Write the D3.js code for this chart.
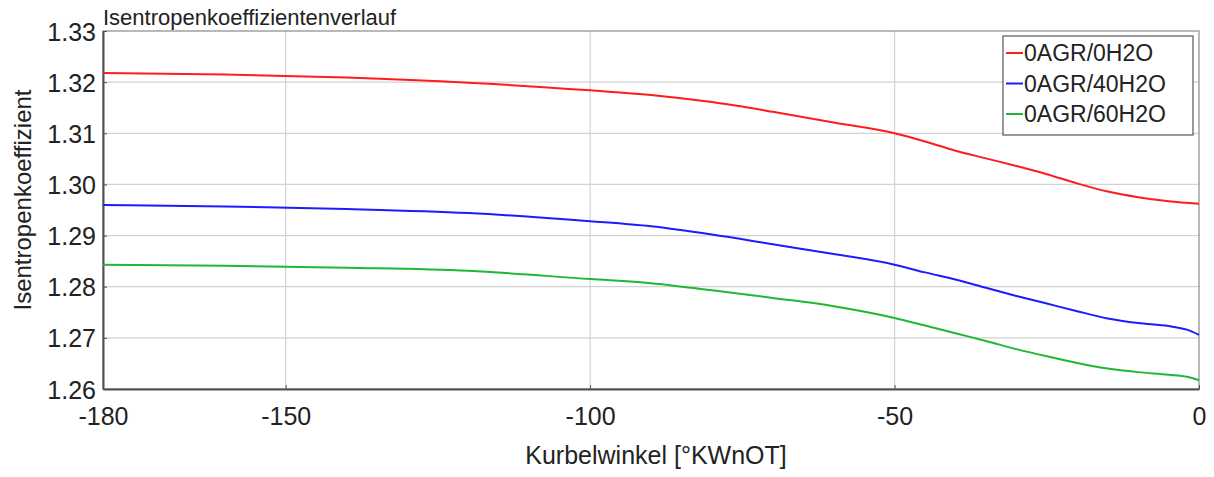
<!DOCTYPE html>
<html>
<head>
<meta charset="utf-8">
<script src="https://cdn.jsdelivr.net/npm/d3@7"></script>
<style>
  body { margin: 0; background: #fff; }
  svg { display: block; font-family: Arial, "Liberation Sans", sans-serif; }
</style>
</head>
<body>
<svg width="1214" height="477"></svg>
<script>
// crank angle and isentropic coefficient per series
var angles0 = [-180, -160, -140, -120, -100, -90, -80, -70, -60, -50, -45, -40, -35, -30, -25, -20, -15, -10, -5, 0];
var kappa0 = [1.3218, 1.3215, 1.3209, 1.3199, 1.3184, 1.3175, 1.3161, 1.3142, 1.3121, 1.3100, 1.3084, 1.3066, 1.3051, 1.3036, 1.3020, 1.3002, 1.2986, 1.2975, 1.2967, 1.2962];

var angles40 = [-180, -160, -140, -120, -100, -90, -80, -70, -60, -50, -45, -40, -35, -30, -25, -20, -15, -10, -5, -2, 0];
var kappa40 = [1.2960, 1.2957, 1.2952, 1.2944, 1.2928, 1.2918, 1.2902, 1.2883, 1.2864, 1.2843, 1.2828, 1.2814, 1.2798, 1.2782, 1.2767, 1.2752, 1.2738, 1.2729, 1.2723, 1.2716, 1.2706];

var angles60 = [-180, -160, -140, -120, -100, -90, -80, -70, -60, -50, -45, -40, -35, -30, -25, -20, -15, -10, -5, -2, 0];
var kappa60 = [1.2843, 1.2841, 1.2837, 1.2831, 1.2815, 1.2807, 1.2793, 1.2778, 1.2762, 1.2739, 1.2724, 1.2709, 1.2694, 1.2678, 1.2664, 1.2651, 1.2640, 1.2633, 1.2628, 1.2624, 1.2617];

var seriesNames = ['0AGR/0H2O', '0AGR/40H2O', '0AGR/60H2O'];
var seriesColors = ['#ff1c1c', '#1c1cff', '#1fb832'];
var xTicks = [-180, -150, -100, -50, 0];
var yTicks = [1.26, 1.27, 1.28, 1.29, 1.30, 1.31, 1.32, 1.33];

var svg = d3.select('svg');
var margin = {top: 31, right: 15, bottom: 88, left: 103};
var width = 1214 - margin.left - margin.right;
var height = 477 - margin.top - margin.bottom;

var x = d3.scaleLinear().domain([-180, 0]).range([0, width]);
var y = d3.scaleLinear().domain([1.26, 1.33]).range([height, 0]);

var g = svg.append('g').attr('transform', 'translate(' + margin.left + ',' + margin.top + ')');

// grid
g.append('g').selectAll('line').data(xTicks.slice(1, -1)).enter().append('line')
    .attr('x1', d => x(d)).attr('x2', d => x(d))
    .attr('y1', 0).attr('y2', height)
    .attr('stroke', '#d2d2d2').attr('stroke-width', 1.2);
g.append('g').selectAll('line').data(yTicks.slice(1, -1)).enter().append('line')
    .attr('x1', 0).attr('x2', width)
    .attr('y1', d => y(d)).attr('y2', d => y(d))
    .attr('stroke', '#d2d2d2').attr('stroke-width', 1.2);

// frame
g.append('rect').attr('width', width).attr('height', height)
    .attr('fill', 'none').attr('stroke', '#8a8a8a').attr('stroke-width', 1.2);

var xAxis = d3.axisBottom(x).tickValues(xTicks).tickSizeInner(-4).tickSizeOuter(0).tickPadding(18)
    .tickFormat(d3.format('d'));
var yAxis = d3.axisLeft(y).tickValues(yTicks).tickSizeInner(-4).tickSizeOuter(0).tickPadding(7)
    .tickFormat(d3.format('.2f'));

var gx = g.append('g').attr('transform', 'translate(0,' + height + ')').call(xAxis);
var gy = g.append('g').call(yAxis);
[gx, gy].forEach(function(a) {
    a.select('.domain').attr('stroke', '#505050').attr('stroke-width', 2);
    a.selectAll('.tick line').attr('stroke', '#505050');
    a.selectAll('.tick text').attr('font-size', 25).attr('fill', '#222')
        .style('font-family', 'Arial, "Liberation Sans", sans-serif');
});
gx.selectAll('.tick text').text(d => d === 0 ? '0' : String(d).replace('\u2212', '-'));
gy.selectAll('.tick text').attr('dy', '0.36em');

// lines
var series = [
    {name: seriesNames[0], color: seriesColors[0], xs: angles0, ys: kappa0},
    {name: seriesNames[1], color: seriesColors[1], xs: angles40, ys: kappa40},
    {name: seriesNames[2], color: seriesColors[2], xs: angles60, ys: kappa60}
];
var line = d3.line().x(d => x(d[0])).y(d => y(d[1])).curve(d3.curveMonotoneX);
g.selectAll('.series').data(series).enter().append('path')
    .attr('class', 'series')
    .attr('fill', 'none')
    .attr('stroke', d => d.color)
    .attr('stroke-width', 2)
    .attr('d', d => line(d.xs.map((a, i) => [a, d.ys[i]])));

// title and labels
svg.append('text').attr('x', 103).attr('y', 25)
    .attr('font-size', 22).attr('fill', '#222')
    .text('Isentropenkoeffizientenverlauf');
svg.append('text').attr('x', margin.left + width / 2 + 5).attr('y', 464)
    .attr('text-anchor', 'middle').attr('font-size', 25).attr('fill', '#222')
    .text('Kurbelwinkel [°KWnOT]');
svg.append('text')
    .attr('transform', 'translate(31,' + (margin.top + height / 2 - 10) + ') rotate(-90)')
    .attr('text-anchor', 'middle').attr('font-size', 24).attr('fill', '#222')
    .text('Isentropenkoeffizient');

// legend
var legend = svg.append('g').attr('transform', 'translate(1003,36)');
legend.append('rect').attr('width', 190).attr('height', 99)
    .attr('fill', '#fff').attr('stroke', '#555').attr('stroke-width', 1.2);
var items = legend.selectAll('.item').data(series).enter().append('g')
    .attr('transform', (d, i) => 'translate(0,' + (17 + i * 30.5) + ')');
items.append('line').attr('x1', 3).attr('x2', 20).attr('y1', 0).attr('y2', 0)
    .attr('stroke', d => d.color).attr('stroke-width', 2);
items.append('text').attr('x', 21).attr('y', 0).attr('dy', '0.36em')
    .attr('font-size', 23).attr('fill', '#222')
    .text(d => d.name);
</script>
</body>
</html>
